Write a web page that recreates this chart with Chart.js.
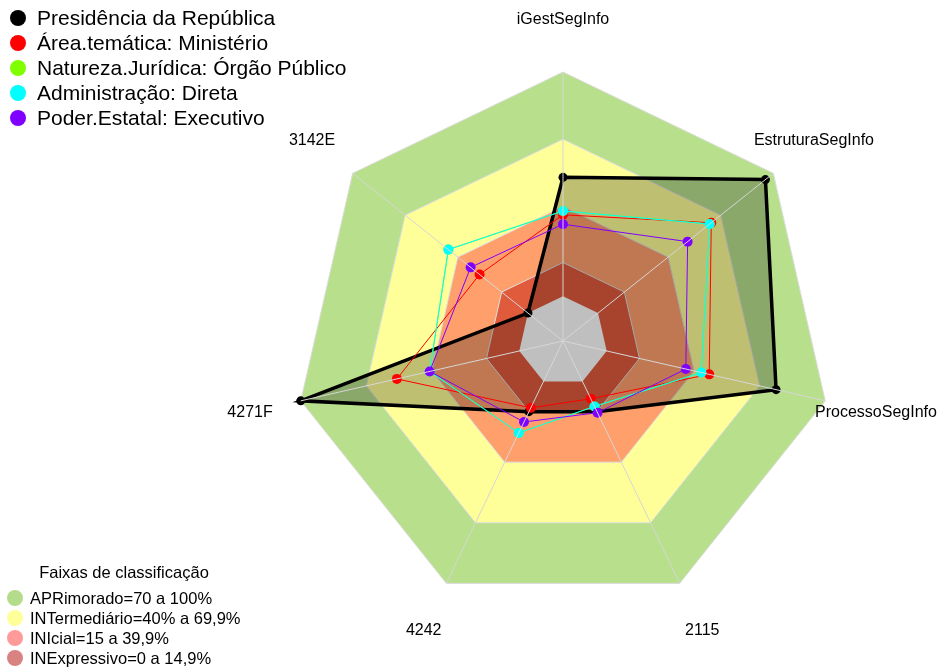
<!DOCTYPE html>
<html>
<head>
<meta charset="utf-8">
<script src="https://cdn.jsdelivr.net/npm/chart.js@4"></script>
<style>
  body { margin: 0; background: #fff; font-family: "Liberation Sans", Arial, sans-serif; }
  #wrap { position: relative; width: 944px; height: 668px; }
  canvas { position: absolute; left: 0; top: 0; }
  .legend { position: absolute; color: #000; }
  #seriesLegend { left: 0; top: 5px; font-size: 21px; }
  #seriesLegend .row { display: flex; align-items: center; height: 25px; white-space: nowrap; }
  #seriesLegend .dot { width: 16px; height: 16px; border-radius: 50%; margin-left: 10px; margin-right: 11px; }
  #bandLegend { left: 0; top: 560px; width: 248px; font-size: 16.5px; }
  #bandLegend .title { text-align: center; height: 28px; line-height: 24px; }
  #bandLegend .row { display: flex; align-items: center; height: 20px; white-space: nowrap; }
  #bandLegend .dot { width: 16px; height: 16px; border-radius: 50%; margin-left: 7px; margin-right: 7px; }
</style>
</head>
<body>
<div id="wrap">
  <canvas id="radarChart" width="944" height="668"></canvas>
  <div id="seriesLegend" class="legend"></div>
  <div id="bandLegend" class="legend"></div>
</div>
<script>
// axes, clockwise from the top
const axisLabels = ['iGestSegInfo', 'EstruturaSegInfo', 'ProcessoSegInfo', '2115', '4242', '4271F', '3142E'];

// series values (%)
const presidencia = [53, 95.5, 77.5, 15, 15, 100, 0];
const ministerio = [36.3, 64.6, 46.9, 8.6, 13.1, 56, 27.6];
const orgaoPublico = [38, 63.7, 43.3, 12.4, 25.5, 41, 45.4];
const direta = [38, 63.7, 43.3, 12.4, 25.5, 41, 45.4];
const executivo = [32.1, 51.1, 36.2, 15.5, 20.1, 41, 32.7];

const seriesNames = [
  'Presidência da República',
  'Área.temática: Ministério',
  'Natureza.Jurídica: Órgão Público',
  'Administração: Direta',
  'Poder.Estatal: Executivo'
];
const seriesData = [presidencia, ministerio, orgaoPublico, direta, executivo];
const seriesColors = ['#000000', '#ff0000', '#80ff00', '#00ffff', '#8000ff'];

// classification bands
const bandNames = [
  'APRimorado=70 a 100%',
  'INTermediário=40% a 69,9%',
  'INIcial=15 a 39,9%',
  'INExpressivo=0 a 14,9%'
];
const bandUpper = [100, 70, 40, 15];
const bandLower = [70, 40, 15, 0];
const bandColors = ['#b8e08c', '#ffff99', '#ffa06c', '#e05a3c'];
const bandLegendColors = ['#b5dc8a', '#ffff99', '#ff9a9a', '#d98282'];

// labels around the chart, centred on each axis direction
const axisLabelPlugin = {
  id: 'axisLabels',
  afterDraw(chart) {
    const scale = chart.scales.r;
    const ctx = chart.ctx;
    ctx.save();
    ctx.font = '16px "Liberation Sans", Arial, sans-serif';
    ctx.fillStyle = '#000';
    ctx.textAlign = 'center';
    ctx.textBaseline = 'middle';
    axisLabels.forEach((label, i) => {
      const pos = scale.getPointPosition(i, scale.drawingArea + 52);
      ctx.fillText(label, pos.x, pos.y);
    });
    ctx.restore();
  }
};

function buildDatasets() {
  const datasets = [];

  bandNames.forEach((name, i) => {
    datasets.push({
      label: name,
      data: axisLabels.map(() => bandUpper[i]),
      fill: { value: bandLower[i] },
      backgroundColor: bandColors[i],
      borderColor: '#dcdcdc',
      borderWidth: 1,
      pointRadius: 0,
      order: 100 - i
    });
  });

  seriesNames.forEach((name, i) => {
    const isMain = i === 0;
    datasets.push({
      label: name,
      data: seriesData[i],
      fill: isMain ? 'start' : false,
      backgroundColor: isMain ? 'rgba(0,0,0,0.25)' : seriesColors[i],
      borderColor: seriesColors[i],
      borderWidth: isMain ? 3.5 : 1,
      pointRadius: isMain ? 4.5 : 5,
      pointBorderWidth: 0,
      pointBackgroundColor: seriesColors[i],
      order: 10 - i
    });
  });

  return datasets;
}

function renderLegends() {
  const top = document.getElementById('seriesLegend');
  top.innerHTML = seriesNames.map((name, i) =>
    `<div class="row"><span class="dot" style="background:${seriesColors[i]}"></span>${name}</div>`
  ).join('');

  const bottom = document.getElementById('bandLegend');
  bottom.innerHTML = '<div class="title">Faixas de classificação</div>' + bandNames.map((name, i) =>
    `<div class="row"><span class="dot" style="background:${bandLegendColors[i]}"></span>${name}</div>`
  ).join('');
}

function initChart() {
  const ctx = document.getElementById('radarChart').getContext('2d');
  new Chart(ctx, {
    type: 'radar',
    data: { labels: axisLabels, datasets: buildDatasets() },
    options: {
      responsive: false,
      animation: false,
      layout: { padding: { left: 294, right: 112, top: 72, bottom: 58 } },
      plugins: {
        legend: { display: false },
        tooltip: { enabled: false }
      },
      scales: {
        r: {
          min: -20,
          max: 100,
          ticks: { display: false, stepSize: 20 },
          grid: { display: false, z: 1 },
          angleLines: { display: true, color: '#d6d6d6', lineWidth: 1 },
          pointLabels: { display: false }
        }
      }
    },
    plugins: [axisLabelPlugin]
  });
  renderLegends();
}

document.addEventListener('DOMContentLoaded', initChart);
</script>
</body>
</html>
